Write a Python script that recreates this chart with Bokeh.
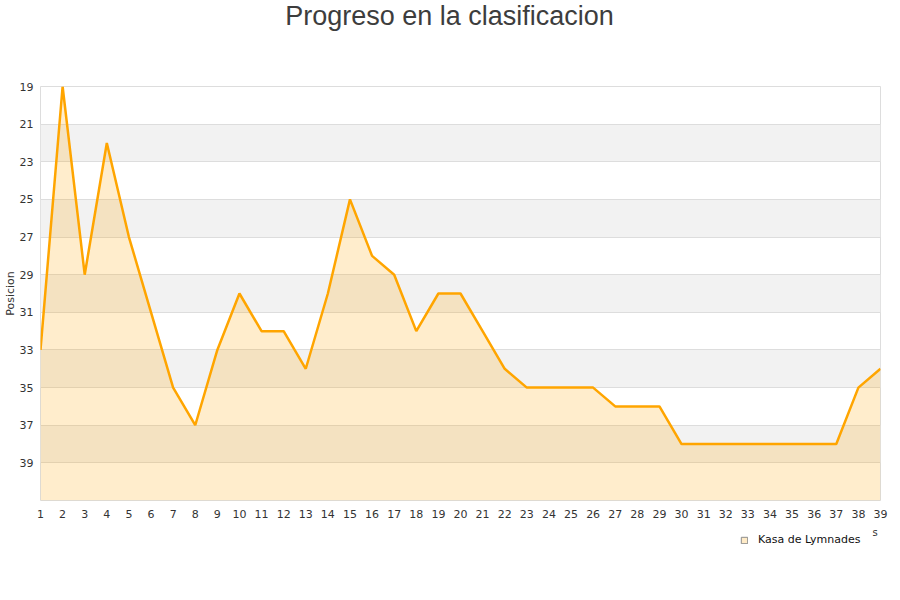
from bokeh.plotting import figure
from bokeh.layouts import column
from bokeh.models import Range1d, FixedTicker, Legend, LegendItem, Label
from bokeh.embed import file_html
from bokeh.resources import INLINE

jornadas = list(range(1, 40))
posicion = [33, 19, 29, 22, 27, 31, 35, 37, 33, 30,
            32, 32, 34, 30, 25, 28, 29, 32, 30, 30,
            32, 34, 35, 35, 35, 35, 36, 36, 36, 38,
            38, 38, 38, 38, 38, 38, 38, 35, 34]
y_ticks = list(range(19, 41, 2))
equipo = "Kasa de Lymnades"
titulo = "Progreso en la clasificacion"


def panel(height, top):
    # figura vacia, en pixeles de pagina, para textos fuera del grafico
    f = figure(width=900, height=height, output_backend="svg", toolbar_location=None,
               x_range=Range1d(40, 880), y_range=Range1d(top + height, top),
               min_border=0, outline_line_color=None)
    f.axis.visible = False
    f.grid.visible = False
    return f


header = panel(70, 0)
header.add_layout(Label(x=449, y=15, text=titulo, text_align="center", text_baseline="middle",
                        text_font="Liberation Sans", text_font_size="27px",
                        text_color="#3d3d3d"))

p = figure(width=900, height=450, output_backend="svg", toolbar_location=None,
           x_range=Range1d(1, 39), y_range=Range1d(41, 19),
           min_border_left=40, min_border_right=20, min_border_top=16, min_border_bottom=20)

base = [41] * len(jornadas)
p.varea(x=jornadas, y1=posicion, y2=base, fill_color="#FFA500", fill_alpha=0.2)
p.line(jornadas, posicion, line_color="#FFA500", line_width=2.5)

p.outline_line_color = "#DDDDDD"
p.xgrid.visible = False
p.ygrid.grid_line_color = "#DDDDDD"
p.ygrid.band_fill_color = "#F2F2F2"
p.ygrid.band_fill_alpha = 1.0
p.ygrid.ticker = FixedTicker(ticks=y_ticks)

for ax in (p.xaxis, p.yaxis):
    ax.axis_line_color = None
    ax.major_tick_line_color = None
    ax.minor_tick_line_color = None
    ax.major_tick_out = 0
    ax.minor_tick_out = 0
    ax.major_label_text_font = "DejaVu Sans"
    ax.major_label_text_font_size = "11px"
    ax.major_label_text_color = "#333333"

p.xaxis.ticker = FixedTicker(ticks=jornadas)
p.xaxis.major_label_standoff = 9
p.yaxis.ticker = FixedTicker(ticks=y_ticks)
p.yaxis.major_label_standoff = 7
p.yaxis.axis_label = "Posicion"
p.yaxis.axis_label_text_font = "DejaVu Sans"
p.yaxis.axis_label_text_font_size = "11px"
p.yaxis.axis_label_text_font_style = "normal"
p.yaxis.axis_label_text_color = "#333333"
p.yaxis.axis_label_standoff = 0

# leyenda debajo del grafico (la muestra es un cuadro de tamano cero, solo para la leyenda)
leg = panel(40, 520)
muestra = leg.quad(left=[0], right=[0], top=[0], bottom=[0], fill_color="#FFA500", fill_alpha=0.22,
                   line_color="#8c8c8c", line_width=1)
leg.add_layout(Label(x=872, y=526, text="s", text_font="DejaVu Sans", text_font_size="10px",
                     text_color="#333333", text_baseline="top"))
legend = Legend(items=[LegendItem(label=equipo, renderers=[muestra])],
                location=(700, 14), glyph_width=8, glyph_height=8,
                label_text_font="DejaVu Sans", label_text_font_size="11px",
                label_text_color="#111111", border_line_color=None,
                background_fill_alpha=0, padding=0, margin=0, label_standoff=10,
                label_height=12)
leg.add_layout(legend, "center")

open("out.html", "w").write(file_html(column(header, p, leg), INLINE))
